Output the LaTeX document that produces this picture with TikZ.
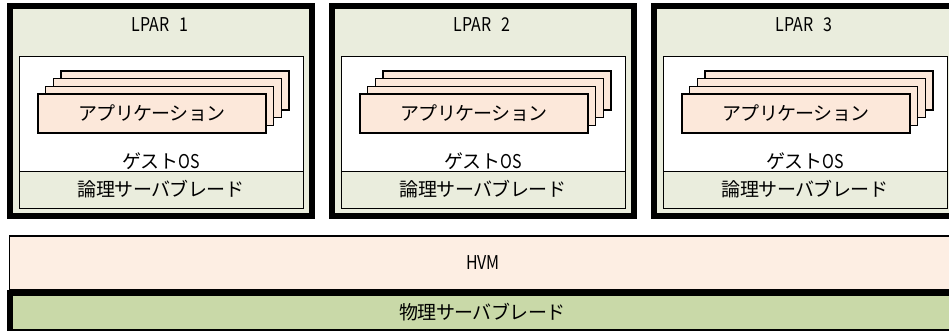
\documentclass[tikz,border=0pt]{standalone}
\usepackage{fontspec}
\setmainfont{Noto Sans CJK JP}[LetterSpace=-3]
\newfontfamily\narrowlat{Noto Sans CJK JP}[FakeStretch=0.84]
\definecolor{lparfill}{HTML}{EAEDDD}
\definecolor{appfill}{HTML}{FCE8DA}
\definecolor{hvmfill}{HTML}{FDEEE3}
\definecolor{physfill}{HTML}{C9D9A8}
\tikzset{
  lparbox/.style={draw=black, line width=6pt, fill=lparfill, minimum width=302pt, minimum height=210pt, inner sep=0pt, outer sep=0pt},
  guestbox/.style={draw=black, line width=1pt, fill=white, minimum width=284pt, minimum height=152pt, inner sep=0pt},
  bandbox/.style={draw=black, line width=1pt, fill=lparfill, minimum width=284pt, minimum height=37pt, inner sep=0pt},
  appbox/.style={draw=black, line width=1.3pt, fill=appfill, minimum width=228pt, minimum height=39pt, inner sep=0pt},
  lbl/.style={inner sep=0pt, font=\fontsize{19}{21}\selectfont, text=black},
}
\begin{document}
\begin{tikzpicture}[x=1pt,y=-1pt]
\useasboundingbox (0,0) rectangle (949,330);
\foreach \i/\ox in {1/7,2/329,3/651}{
  \node[lparbox] (lpar\i) at (\ox+154,111) {};
  \node[lbl] (title\i) at (\ox+153,25) {\narrowlat LPAR\hspace{10pt}\i};
  \node[guestbox] (guest\i) at (\ox+154,132) {};
  \node[bandbox] (band\i) at (\ox+154,189.5) {};
  \node[appbox] (appc\i) at (\ox+145+23,113.5-23) {};
  \node[appbox] (appb\i) at (\ox+145+15.33,113.5-15.33) {};
  \node[appbox] (appa\i) at (\ox+145+7.67,113.5-7.67) {};
  \node[appbox] (app\i) at (\ox+145,113.5) {};
  \node[lbl] (apptext\i) at (app\i.center) {アプリケーション};
  \node[lbl] (ostext\i) at (\ox+154,161) {ゲスト{\narrowlat OS}};
  \node[lbl] (bandtext\i) at (band\i.center) {論理サーバブレード};
}
\node[draw=black, line width=1.5pt, fill=hvmfill, minimum width=944pt, minimum height=54pt, inner sep=0pt] (hvm) at (481.5,263) {};
\node[lbl] (hvmtext) at (483,263) {\narrowlat HVM};
\node[draw=black, line width=6pt, fill=physfill, minimum width=944pt, minimum height=39pt, inner sep=0pt] (phys) at (482,312.5) {};
\node[lbl] (phystext) at (482.5,312) {物理サーバブレード};
\end{tikzpicture}
\end{document}
